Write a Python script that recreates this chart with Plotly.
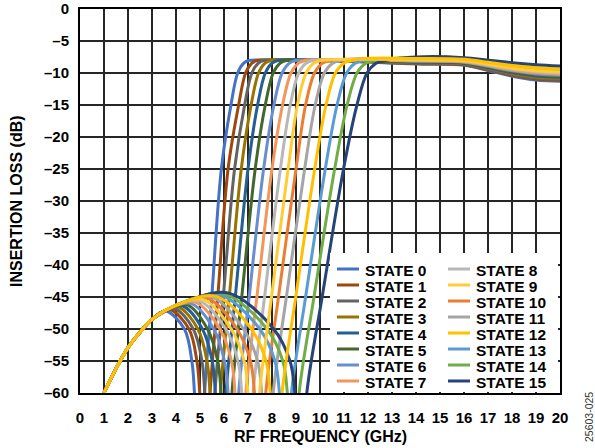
import plotly.graph_objects as go

# ---------------- data ----------------
state_names = ["STATE %d" % i for i in range(16)]
colors = ["#4472C4", "#9E480E", "#636363", "#997300", "#255E91", "#43682B",
          "#698ED0", "#F1975A", "#B7B7B7", "#FFCD33", "#ED7D31", "#A5A5A5",
          "#FFC000", "#5B9BD5", "#70AD47", "#264478"]
draw_order = [0, 1, 2, 3, 4, 5, 6, 7, 8, 10, 11, 13, 14, 15, 9, 12]

x_ticks = list(range(0, 21))
x_tick_text = [str(v) for v in x_ticks]
y_ticks = [0, -5, -10, -15, -20, -25, -30, -35, -40, -45, -50, -55, -60]
y_tick_text = ["0", "–5", "–10", "–15", "–20", "–25", "–30", "–35", "–40",
               "–45", "–50", "–55", "–60"]

# shared low-frequency rise of the stop-band lobe (GHz, dB)
lobe_rise_f = [1.0, 1.5, 2.0, 2.5, 3.0]
lobe_rise_db = [-60.0, -56.2, -52.9, -50.5, -48.5]

# per-state lobe: shoulder, peak, and descending crossings of -50/-55/-60 dB
lobe_mid_f = [3.30, 3.39, 3.47, 3.56, 3.64, 3.73, 3.81, 3.90, 3.98, 4.07, 4.15, 4.25, 4.34, 4.43, 4.51, 4.60]
lobe_mid_db = [-47.55, -47.4, -47.25, -47.1, -46.95, -46.8, -46.65, -46.5, -46.35, -46.2, -46.05, -45.9, -45.83, -45.68, -45.56, -45.45]
lobe_peak_f = [3.60, 3.77, 3.94, 4.11, 4.28, 4.45, 4.62, 4.79, 4.96, 5.13, 5.30, 5.49, 5.67, 5.85, 6.02, 6.20]
lobe_peak_db = [-47.2, -47.0, -46.8, -46.6, -46.4, -46.2, -46.0, -45.8, -45.6, -45.4, -45.2, -45.0, -44.9, -44.7, -44.55, -44.4]
lobe_f_m50 = [4.35, 4.54, 4.72, 4.91, 5.10, 5.31, 5.57, 5.83, 6.07, 6.30, 6.54, 6.81, 7.14, 7.49, 7.79, 8.07]
lobe_f_m55 = [4.66, 4.87, 5.08, 5.29, 5.51, 5.74, 6.02, 6.31, 6.58, 6.84, 7.10, 7.40, 7.75, 8.12, 8.45, 8.75]
lobe_f_m60 = [4.77, 4.99, 5.20, 5.42, 5.64, 5.88, 6.17, 6.46, 6.74, 7.00, 7.27, 7.57, 7.93, 8.31, 8.64, 8.95]
lobe_levels_db = [-50, -55, -60]

# notch below the visible range
notch_f = [4.98, 5.21, 5.41, 5.64, 5.86, 6.11, 6.39, 6.69, 6.98, 7.24, 7.51, 7.81, 8.18, 8.56, 8.89, 9.20]
notch_db = [-75] * 16

# rising filter edge: crossings of -60/-45/-25/-15/-10/-8.5/-8.05 dB
edge_f_m60 = [5.19, 5.42, 5.62, 5.85, 6.08, 6.33, 6.61, 6.91, 7.21, 7.48, 7.74, 8.05, 8.42, 8.81, 9.13, 9.45]
edge_f_m45 = [5.49, 5.74, 5.97, 6.22, 6.47, 6.74, 7.05, 7.37, 7.69, 7.98, 8.27, 8.60, 8.99, 9.40, 9.75, 10.09]
edge_f_m25 = [5.89, 6.17, 6.44, 6.72, 7.00, 7.30, 7.65, 8.00, 8.35, 8.67, 9.00, 9.36, 9.78, 10.22, 10.61, 10.98]
edge_f_m15 = [6.29, 6.61, 6.86, 7.13, 7.40, 7.72, 8.08, 8.44, 8.76, 9.06, 9.40, 9.80, 10.25, 10.71, 11.13, 11.54]
edge_f_m10 = [6.57, 6.90, 7.16, 7.44, 7.72, 8.05, 8.42, 8.79, 9.11, 9.42, 9.77, 10.18, 10.64, 11.11, 11.54, 11.96]
edge_f_m85 = [6.81, 7.15, 7.42, 7.70, 7.99, 8.33, 8.71, 9.09, 9.41, 9.73, 10.09, 10.51, 10.98, 11.45, 11.89, 12.32]
edge_f_m80 = [7.02, 7.37, 7.65, 7.95, 8.25, 8.60, 8.99, 9.38, 9.72, 10.05, 10.42, 10.85, 11.33, 11.82, 12.27, 12.71]
edge_levels_db = [-60, -45, -25, -15, -10, -8.5, -8.05]

# pass band (GHz) and per-state insertion loss (dB)
pb_f = [8, 10, 12, 14, 16, 17, 18, 19, 20]
pb_db_8 = [-8.0] * 16
pb_db_10 = [-8.05, -8.03, -8.01, -7.99, -7.97, -7.95, -7.93, -7.91, -7.89, -7.87, -7.85, -7.83, -7.81, -7.79, -7.77, -7.75]
pb_db_12 = [-8.30, -8.25, -8.20, -8.15, -8.10, -8.05, -8.00, -7.95, -7.90, -7.85, -7.80, -7.75, -7.70, -7.65, -7.60, -7.55]
pb_db_14 = [-8.60, -8.53, -8.45, -8.38, -8.31, -8.23, -8.16, -8.09, -8.01, -7.94, -7.87, -7.79, -7.72, -7.65, -7.57, -7.50]
pb_db_16 = [-8.80, -8.72, -8.64, -8.56, -8.48, -8.40, -8.32, -8.24, -8.16, -8.08, -8.00, -7.92, -7.84, -7.76, -7.68, -7.60]
pb_db_17 = [-9.60, -9.49, -9.39, -9.28, -9.17, -9.07, -8.96, -8.85, -8.75, -8.64, -8.53, -8.43, -8.32, -8.21, -8.11, -8.00]
pb_db_18 = [-10.50, -10.36, -10.22, -10.08, -9.94, -9.80, -9.66, -9.52, -9.38, -9.24, -9.10, -8.96, -8.82, -8.68, -8.54, -8.40]
pb_db_19 = [-11.10, -10.94, -10.78, -10.62, -10.46, -10.30, -10.14, -9.98, -9.82, -9.66, -9.50, -9.34, -9.18, -9.02, -8.86, -8.70]
pb_db_20 = [-11.30, -11.14, -10.98, -10.82, -10.66, -10.50, -10.34, -10.18, -10.02, -9.86, -9.70, -9.54, -9.38, -9.22, -9.06, -8.90]
pb_cols = [pb_db_8, pb_db_10, pb_db_12, pb_db_14, pb_db_16, pb_db_17, pb_db_18, pb_db_19, pb_db_20]

# ---------------- figure ----------------
FONT = "Liberation Sans, Arial, Helvetica, sans-serif"
W, H = 595, 448
L, R, T, B = 80, 35, 9, 55
PW, PH = W - L - R, H - T - B


def xp(px):
    return (px - L) / PW


def yp(py):
    return (H - B - py) / PH


fig = go.Figure()
for k in draw_order:
    xs = list(lobe_rise_f) + [lobe_mid_f[k], lobe_peak_f[k]]
    ys = list(lobe_rise_db) + [lobe_mid_db[k], lobe_peak_db[k]]
    xs += [lobe_f_m50[k], lobe_f_m55[k], lobe_f_m60[k]]
    ys += lobe_levels_db
    xs.append(notch_f[k])
    ys.append(notch_db[k])
    xs += [edge_f_m60[k], edge_f_m45[k], edge_f_m25[k], edge_f_m15[k],
           edge_f_m10[k], edge_f_m85[k], edge_f_m80[k]]
    ys += edge_levels_db
    for f, col in zip(pb_f, pb_cols):
        if f > edge_f_m80[k] + 0.6:
            xs.append(f)
            ys.append(col[k])
    fig.add_trace(go.Scatter(
        x=xs, y=ys, mode="lines", name=state_names[k],
        line=dict(color=colors[k], width=3, shape="spline", smoothing=1.0),
        showlegend=False, hoverinfo="skip"))

# manual two-column legend
shapes = [dict(type="rect", xref="paper", yref="paper", layer="above",
               x0=xp(330), x1=xp(558), y0=yp(392), y1=yp(253),
               fillcolor="white", line=dict(width=0))]
annotations = []
for k in range(16):
    col, row = divmod(k, 8)
    py = 269 + 16 * row
    sx0 = 337 if col == 0 else 448
    shapes.append(dict(type="line", xref="paper", yref="paper", layer="above",
                       x0=xp(sx0), x1=xp(sx0 + 22), y0=yp(py), y1=yp(py),
                       line=dict(color=colors[k], width=3)))
    annotations.append(dict(xref="paper", yref="paper", x=xp(sx0 + 26), y=yp(py + 1),
                            xanchor="left", yanchor="middle", showarrow=False,
                            text="<b>%s</b>" % state_names[k],
                            font=dict(family=FONT, size=15.5, color="black")))

annotations.append(dict(xref="paper", yref="paper", x=xp(589), y=yp(417),
                        xanchor="center", yanchor="middle", showarrow=False,
                        textangle=-90, text="25603-025",
                        font=dict(family=FONT, size=10.5, color="#333333")))

# axis titles placed explicitly
annotations.append(dict(xref="paper", yref="paper", x=xp(320), y=yp(436),
                        xanchor="center", yanchor="middle", showarrow=False,
                        text="<b>RF FREQUENCY (GHz)</b>",
                        font=dict(family=FONT, size=16, color="black")))
annotations.append(dict(xref="paper", yref="paper", x=xp(16), y=yp(201),
                        xanchor="center", yanchor="middle", showarrow=False,
                        textangle=-90, text="<b>INSERTION LOSS (dB)</b>",
                        font=dict(family=FONT, size=16, color="black")))

fig.update_layout(
    width=W, height=H, margin=dict(l=L, r=R, t=T, b=B, pad=0, autoexpand=False),
    paper_bgcolor="white", plot_bgcolor="white",
    font=dict(family=FONT, color="black"),
    shapes=shapes, annotations=annotations, showlegend=False,
)
fig.update_xaxes(
    range=[0, 20], tickvals=x_ticks, ticktext=x_tick_text, automargin=False,
    showgrid=True, gridcolor="#262626", gridwidth=1.8,
    showline=True, linecolor="black", linewidth=2, mirror=True,
    ticks="", zeroline=False, ticklabelstandoff=10,
    tickfont=dict(family=FONT, size=15, color="black", weight="bold"),
)
fig.update_yaxes(
    range=[-60, 0], tickvals=y_ticks, ticktext=y_tick_text, automargin=False,
    showgrid=True, gridcolor="#262626", gridwidth=1.8,
    showline=True, linecolor="black", linewidth=2, mirror=True,
    ticks="", zeroline=False, ticklabelstandoff=6,
    tickfont=dict(family=FONT, size=15, color="black", weight="bold"),
)

fig.write_html("out.html", config={"displayModeBar": False},
               post_script="document.body.style.margin='0';document.body.style.padding='0';")
